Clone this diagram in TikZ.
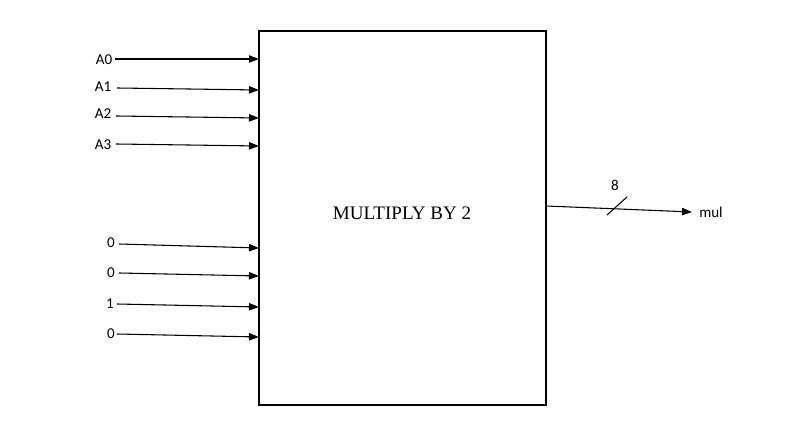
\documentclass[tikz,border=0pt]{standalone}
\usepackage{fontspec}
\setmainfont{Liberation Serif}
\newfontfamily\lblfont{Carlito}
\usetikzlibrary{arrows.meta}
\begin{document}
\begin{tikzpicture}[x=0.75pt,y=-0.75pt,
  lbl/.style={font=\lblfont\fontsize{11.3}{12}\selectfont, inner sep=0pt},
  sig/.style={draw=black, line width=0.8pt, -{Triangle[length=7.5pt,width=5.5pt]}},
  blk/.style={draw=black, line width=0.8pt}]
\useasboundingbox (0,0) rectangle (797,448);
\draw[blk] (259,31) rectangle (546,405);
\node[font=\fontsize{14.3}{16}\selectfont, inner sep=0pt] (title) at (402,213) {MULTIPLY BY 2};
% inputs
\node[lbl] (a0) at (104,60) {A0};
\node[lbl] (a1) at (103,87) {A1};
\node[lbl] (a2) at (103,114) {A2};
\node[lbl] (a3) at (103,145) {A3};
\node[lbl] (z1) at (111,243) {0};
\node[lbl] (z2) at (111,273) {0};
\node[lbl] (o1) at (110,304) {1};
\node[lbl] (z3) at (111,334) {0};
\coordinate (s0) at (115,59);  \coordinate (e0) at (259,59);
\coordinate (s1) at (117,88);  \coordinate (e1) at (259,90);
\coordinate (s2) at (116,116); \coordinate (e2) at (259,118);
\coordinate (s3) at (116,144); \coordinate (e3) at (259,146);
\coordinate (s4) at (119,244); \coordinate (e4) at (259,248);
\coordinate (s5) at (119,273); \coordinate (e5) at (259,276);
\coordinate (s6) at (117,304); \coordinate (e6) at (259,307);
\coordinate (s7) at (117,334); \coordinate (e7) at (259,337);
\foreach \i in {0,...,7} { \draw[sig] (s\i) -- (e\i); }
% output
\coordinate (os) at (546,206);
\coordinate (oe) at (692,212);
\draw[sig] (os) -- (oe);
\node[lbl] (mul) at (711,212) {mul};
\coordinate (k1) at (607,215);
\coordinate (k2) at (627,197);
\draw[line width=0.8pt] (k1) -- (k2);
\node[lbl] (w) at (615,185) {8};
\end{tikzpicture}
\end{document}
